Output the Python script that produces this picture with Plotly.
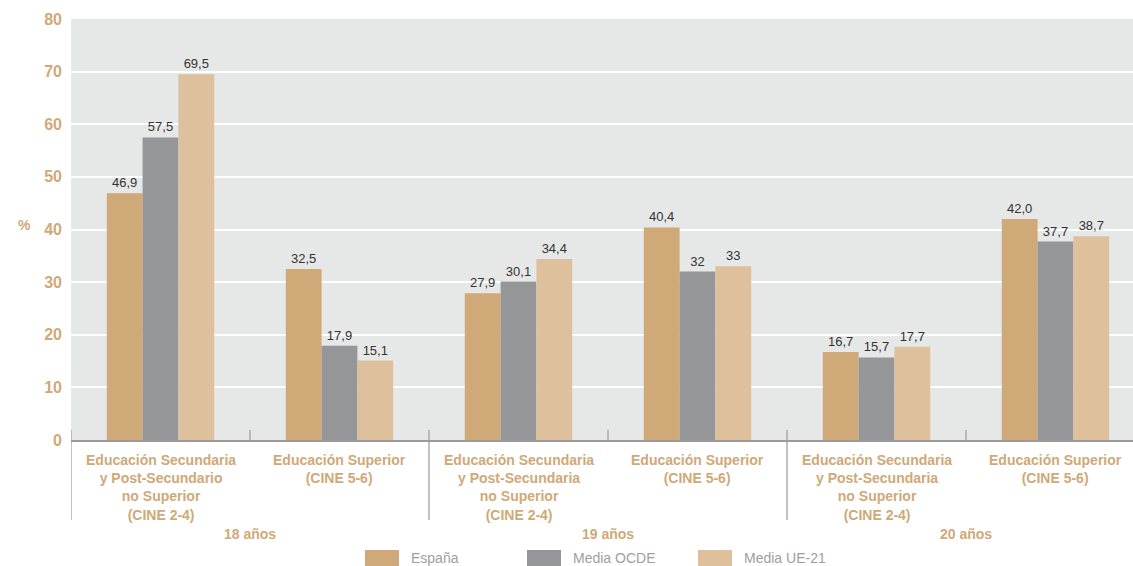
import plotly.graph_objects as go

categories = [
    "Educación Secundaria<br>y Post-Secundario<br>no Superior<br>(CINE 2-4)",
    "Educación Superior<br>(CINE 5-6)",
    "Educación Secundaria<br>y Post-Secundaria<br>no Superior<br>(CINE 2-4)",
    "Educación Superior<br>(CINE 5-6)",
    "Educación Secundaria<br>y Post-Secundaria<br>no Superior<br>(CINE 2-4)",
    "Educación Superior<br>(CINE 5-6)",
]
age_groups = ["18 años", "19 años", "20 años"]
series_names = ["España", "Media OCDE", "Media UE-21"]
espana = [46.9, 32.5, 27.9, 40.4, 16.7, 42.0]
ocde = [57.5, 17.9, 30.1, 32.0, 15.7, 37.7]
ue21 = [69.5, 15.1, 34.4, 33.0, 17.7, 38.7]
espana_lbl = ["46,9", "32,5", "27,9", "40,4", "16,7", "42,0"]
ocde_lbl = ["57,5", "17,9", "30,1", "32", "15,7", "37,7"]
ue21_lbl = ["69,5", "15,1", "34,4", "33", "17,7", "38,7"]
y_ticks = [0, 10, 20, 30, 40, 50, 60, 70, 80]

colors = ["#CFA978", "#959697", "#DEC19C"]
TAN = "#CFA978"
FONT = "Liberation Sans Narrow, Arial Narrow, Liberation Sans, sans-serif"

W, H = 1133, 566
L, R, T, B = 71, 0, 19, 126
PW = W - L - R
PH = H - T - B

def px_x(p):
    return (p - L) / PW

def px_y(p):
    return (H - B - p) / PH

xs = list(range(len(categories)))
fig = go.Figure()
for name, vals, lbls, c in zip(series_names, [espana, ocde, ue21],
                               [espana_lbl, ocde_lbl, ue21_lbl], colors):
    fig.add_trace(go.Bar(
        x=xs, y=vals, name=name, marker=dict(color=c, line=dict(width=0)),
        text=lbls, textposition="outside", cliponaxis=False,
        textfont=dict(family=FONT, size=13, color="#333333"),
        showlegend=False, hoverinfo="skip",
    ))

shapes = []
annotations = []
for i, c in enumerate(categories):
    annotations.append(dict(
        x=i, y=px_y(450), xref="x", yref="paper", text="<b>" + c + "</b>",
        showarrow=False, yanchor="top", xanchor="center",
        font=dict(family=FONT, size=14, color=TAN), align="center"))
for g, lab in enumerate(age_groups):
    annotations.append(dict(
        x=2 * g + 0.5, y=px_y(534), xref="x", yref="paper", text="<b>" + lab + "</b>",
        showarrow=False, yanchor="middle", xanchor="center",
        font=dict(family=FONT, size=14, color=TAN)))
for g in range(3):
    xb = 2 * g - 0.5
    shapes.append(dict(type="line", xref="x", yref="paper", x0=xb, x1=xb,
                       y0=px_y(520), y1=px_y(430),
                       line=dict(color="#9A9A9A", width=1.2)))
    xm = 2 * g + 0.5
    shapes.append(dict(type="line", xref="x", yref="paper", x0=xm, x1=xm,
                       y0=px_y(440), y1=px_y(430),
                       line=dict(color="#9A9A9A", width=1.2)))
annotations.append(dict(x=px_x(16), y=px_y(225), xref="paper", yref="paper",
                        text="<b>%</b>", showarrow=False,
                        font=dict(family=FONT, size=14, color=TAN)))
leg_x = [365, 527, 698]
for lx, name, c in zip(leg_x, series_names, colors):
    shapes.append(dict(type="rect", xref="paper", yref="paper",
                       x0=px_x(lx), x1=px_x(lx + 34), y0=px_y(566), y1=px_y(550),
                       fillcolor=c, line=dict(width=0)))
    annotations.append(dict(x=px_x(lx + 44), y=px_y(558), xref="paper", yref="paper",
                            text=name, showarrow=False, xanchor="left", yanchor="middle",
                            font=dict(family=FONT, size=14, color="#A0A0A0")))

fig.update_layout(
    width=W, height=H,
    margin=dict(l=L, r=R, t=T, b=B),
    paper_bgcolor="white", plot_bgcolor="#E6E7E7",
    barmode="group", bargap=0.4, bargroupgap=0,
    shapes=shapes, annotations=annotations,
    showlegend=False,
    xaxis=dict(range=[-0.5, -0.5 + PW / 179.0], showticklabels=False, showgrid=False,
               zeroline=False, showline=True, linecolor="#9A9A9A", linewidth=1.5,
               tickvals=[]),
    yaxis=dict(range=[0, 80], tickvals=y_ticks, showgrid=True, gridcolor="white",
               gridwidth=1.5, zeroline=False, showline=False,
               tickfont=dict(family=FONT, size=16, color=TAN, weight="bold"),
               ticks="", ticklabelstandoff=8),
)
fig.write_html("out.html", config={"displayModeBar": False},
               post_script="document.body.style.margin='0';document.body.style.overflow='hidden';")
